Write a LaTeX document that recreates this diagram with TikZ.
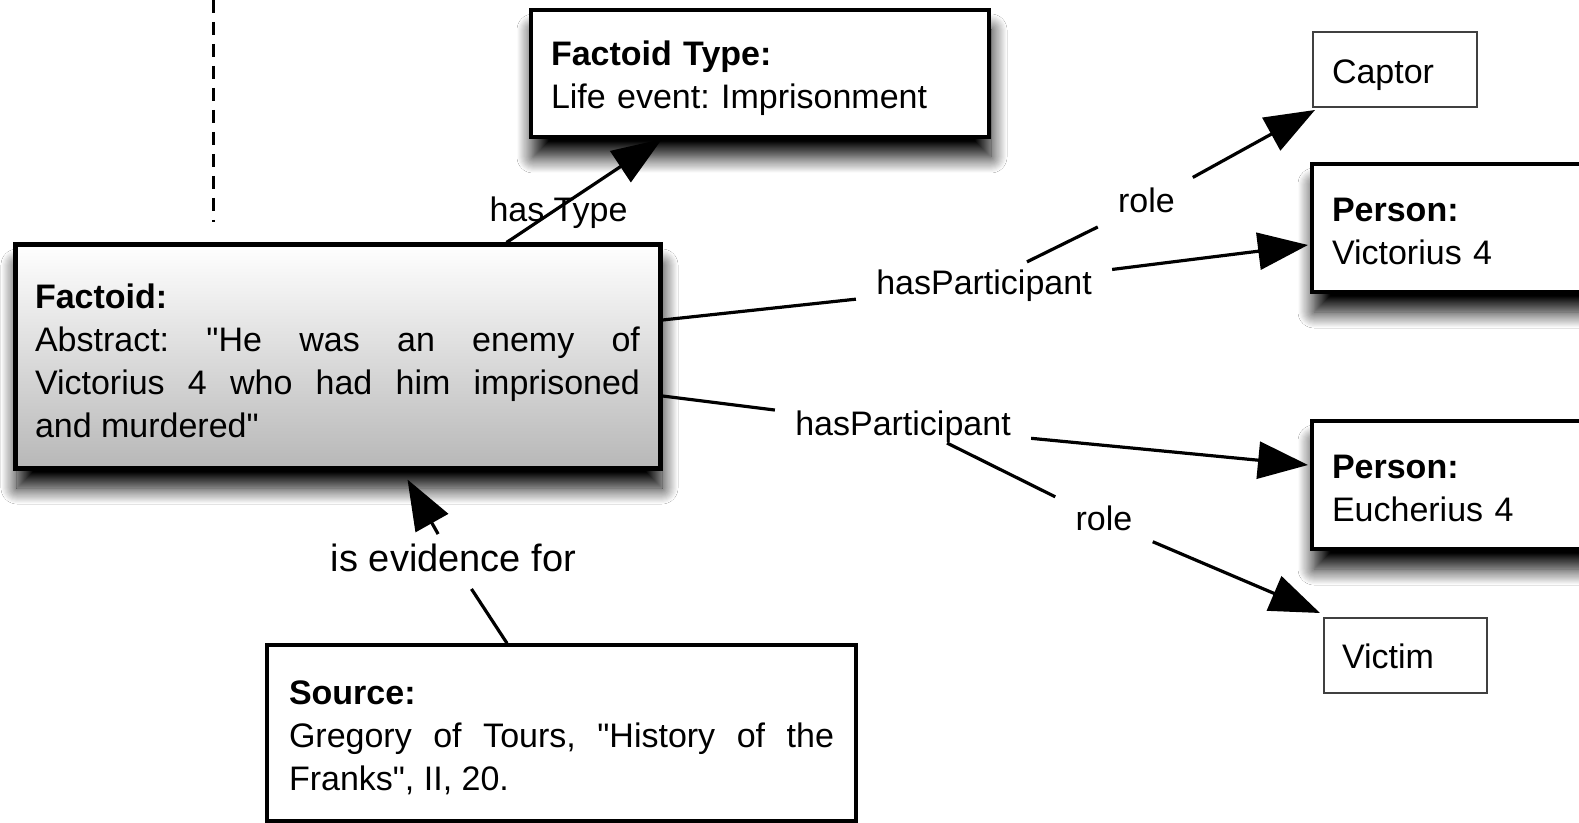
\documentclass[tikz,border=0pt]{standalone}
\usepackage{fontspec}
\setmainfont{Liberation Sans}[Ligatures=TeXOff]
\usetikzlibrary{arrows.meta,shadows.blur,calc}
\tolerance=10000 \hbadness=10000 \hyphenpenalty=10000 \exhyphenpenalty=10000
\frenchspacing
\newcommand{\tallstrut}[1]{\rule{0pt}{#1}}
\begin{document}
\begin{tikzpicture}[x=0.5pt,y=-0.5pt,
  txt/.style={font=\fontsize{17}{21.5}\selectfont},
  box/.style={draw=black, rectangle, inner xsep=10pt, inner ysep=0pt, align=left, txt},
  lbl/.style={txt, inner xsep=10pt, inner ysep=4.5pt, text height=12.75pt, text depth=3.4pt},
  conn/.style={line width=1.6pt, draw=black},
  arr/.style={conn, -{Triangle[length=25pt,width=18.5pt]}},
  shad/.style={blur shadow={shadow xshift=1pt, shadow yshift=-10pt, shadow blur radius=8pt, shadow blur steps=16, shadow opacity=100}}
]
\useasboundingbox (0,0) rectangle (1579,823);
\clip (0,0) rectangle (1579,823);
\fill[white] (0,0) rectangle (1579,823);

% dashed divider
\coordinate (dtop) at (213.5,0);
\coordinate (dbot) at (213.5,222);
\draw[line width=1.6pt, dash pattern=on 6.5pt off 4.5pt] (dtop) -- (dbot);

% boxes
\node[box, shad, line width=2.5pt, top color=white, bottom color=black!28,
      minimum width=322.5pt, minimum height=111.5pt, text width=302.5pt, align=justify]
      (factoid) at (337.5,356.5)
      {\tallstrut{16.4pt}\textbf{Factoid:}\\ Abstract: "He was an enemy of\linebreak Victorius 4 who had him imprisoned\linebreak and murdered"};

\node[box, shad, fill=white, line width=2pt, minimum width=229pt, minimum height=63.5pt, text width=209pt]
      (ftype) at (760,73.5) {\tallstrut{16.9pt}\textbf{Factoid Type:}\\Life event: Imprisonment};

\node[box, fill=white, draw=black!75, line width=1pt, inner xsep=9.5pt, minimum width=82pt, minimum height=37.5pt, text width=63pt]
      (captor) at (1395,69.5) {\tallstrut{18pt}Captor};

\node[box, shad, fill=white, line width=2pt, minimum width=144pt, minimum height=64pt, text width=124pt]
      (p1) at (1456,228) {\tallstrut{15.4pt}\textbf{Person:}\\Victorius 4};

\node[box, shad, fill=white, line width=2pt, minimum width=144pt, minimum height=64pt, text width=124pt]
      (p2) at (1456,485) {\tallstrut{15pt}\textbf{Person:}\\Eucherius 4};

\node[box, fill=white, draw=black!75, line width=1pt, inner xsep=9pt, minimum width=81.5pt, minimum height=37.5pt, text width=63.5pt]
      (victim) at (1405.5,655.5) {\tallstrut{13.4pt}Victim};

\node[box, fill=white, line width=1.75pt, minimum width=294.5pt, minimum height=88pt, text width=272.5pt, align=justify]
      (source) at (561.5,733) {\tallstrut{16.4pt}\textbf{Source:}\\ Gregory of Tours, "History of the\linebreak Franks", II, 20.};

% labels
\node[lbl] (hastype) at (558.5,212) {has Type};
\node[lbl] (hp1) at (984,285.4) {hasParticipant};
\node[lbl] (hp2) at (903,426) {hasParticipant};
\node[lbl] (role1) at (1146.5,203) {role};
\node[lbl] (role2) at (1104,521) {role};
\node[lbl, font=\fontsize{19}{23}\selectfont, text height=14.25pt, text depth=3.8pt] (ev) at (453.5,561.5) {is evidence for};

% connectors
\draw[arr] ($(factoid.north)+(169,0)$) -- ($(ftype.south)+(-98,0)$);

\draw[conn] ($(factoid.east)+(0,-36.5)$) -- (hp1);
\draw[arr] (hp1) -- ($(p1.west)+(-2,17)$);
\coordinate (r1s) at ($(hp1.north)+(43,2)$);
\draw[conn] (r1s) -- (role1);
\draw[arr] (role1) -- ($(captor.south west)+(3,2)$);

\draw[conn] ($(factoid.east)+(0,39.5)$) -- (hp2);
\draw[arr] (hp2) -- ($(p2.west)+(-2,-20)$);
\coordinate (r2s) at ($(hp2.center)+(44,17)$);
\draw[conn] (r2s) -- (role2);
\draw[arr] (role2) -- ($(victim.north west)+(-3,-4)$);

\draw[conn] ($(source.north)+(-54.5,0)$) -- (ev);
\draw[arr] (ev) -- ($(factoid.south)+(70,9)$);
\end{tikzpicture}
\end{document}
